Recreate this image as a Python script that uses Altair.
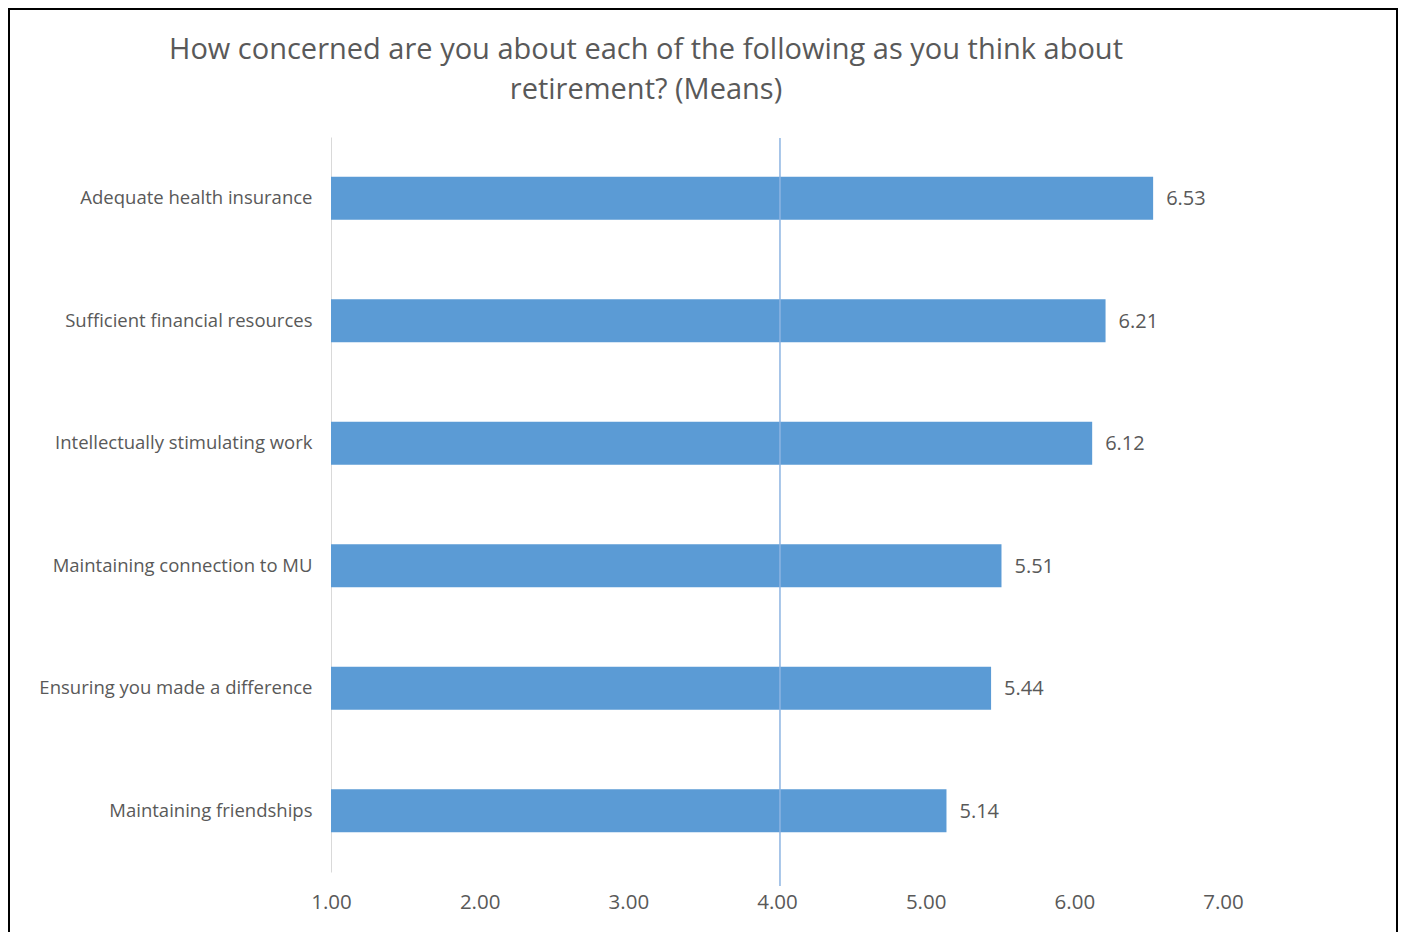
import altair as alt
import pandas as pd

categories = [
    "Adequate health insurance",
    "Sufficient financial resources",
    "Intellectually stimulating work",
    "Maintaining connection to MU",
    "Ensuring you made a difference",
    "Maintaining friendships",
]
means = [6.53, 6.21, 6.12, 5.51, 5.44, 5.14]
x_ticks = [1, 2, 3, 4, 5, 6, 7]
reference_value = [4.02]
title_lines = [
    "How concerned are you about each of the following as you think about",
    "retirement? (Means)",
]

df = pd.DataFrame({"item": categories, "mean": means})
ref = pd.DataFrame({"ref": reference_value})
frame_df = pd.DataFrame({"k": [0]})

W, H = 892, 735
FONT = "Open Sans"
GRAY = "#595959"
BLUE = "#5B9BD5"

y_enc = alt.Y(
    "item:N",
    sort=categories,
    scale=alt.Scale(paddingInner=0.65, paddingOuter=0.325),
    axis=alt.Axis(
        title=None, ticks=False, domainColor="#D9D9D9", domainWidth=1,
        labelFont=FONT, labelFontSize=18.5, labelColor=GRAY,
        labelPadding=19, labelLimit=400,
    ),
)
x_enc = alt.X(
    "mean:Q",
    scale=alt.Scale(domain=[1, 7], nice=False, zero=False),
    axis=alt.Axis(
        title=None, values=x_ticks, format=".2f", grid=False, domain=False,
        ticks=False, labelFlush=False, labelFont=FONT, labelFontSize=20.5,
        labelColor=GRAY, labelPadding=20,
    ),
)

bars = alt.Chart(df).mark_bar(color=BLUE).encode(x=x_enc, x2=alt.datum(1), y=y_enc)

labels = alt.Chart(df).mark_text(
    align="left", baseline="middle", dx=13, dy=1, font=FONT, fontSize=20, color=GRAY
).encode(x=x_enc, y=y_enc, text=alt.Text("mean:Q", format=".2f"))

rule = alt.Chart(ref).mark_rule(color="#8DB4E2", strokeWidth=1.5).encode(
    x=alt.X("ref:Q"), y=alt.value(1), y2=alt.value(749)
)

border = alt.Chart(frame_df).mark_rect(
    filled=False, stroke="black", strokeWidth=2
).encode(x=alt.value(-322), x2=alt.value(1066), y=alt.value(-128), y2=alt.value(830))

chart = alt.layer(bars, rule, labels, border).properties(
    width=W,
    height=H,
    title=alt.TitleParams(
        title_lines, anchor="middle", frame="group", dx=-131, dy=97, offset=0,
        font=FONT, fontSize=29, fontWeight="normal", color=GRAY, lineHeight=40,
    ),
    padding={"left": 323, "top": 129, "right": 175, "bottom": 72},
    autosize=alt.AutoSizeParams(type="none"),
).configure_view(stroke=None)

chart.save("out.html", embed_options={"renderer": "svg", "actions": False})
